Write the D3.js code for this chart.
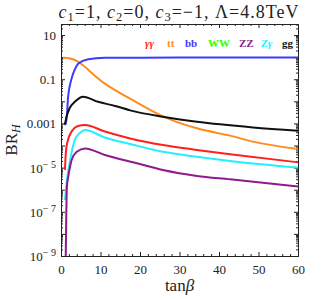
<!DOCTYPE html>
<html>
<head>
<meta charset="utf-8">
<script src="https://cdn.jsdelivr.net/npm/d3@7"></script>
<style>
    body { margin: 0; background: #fff; }
    text { font-family: "Liberation Serif", "DejaVu Serif", serif; }
</style>
</head>
<body>
<script>
// data (tanβ, BR_H)
const tanb_tt = [0.5, 1, 2, 3.5, 5.5, 7.8, 11.1, 13.7, 18.7, 25.8, 34.4, 42.8, 48.6, 60];
const br_tt = [0.95, 0.95, 0.89, 0.74, 0.44, 0.19, 0.063, 0.032, 0.010, 0.0021, 6.0e-4, 2.8e-4, 1.5e-4, 6.9e-5];

const tanb_bb = [0.85, 1.25, 1.85, 2.7, 3.5, 4.4, 6.9, 11.1, 20, 40, 60];
const br_bb = [9.1e-4, 9.1e-4, 0.0195, 0.11, 0.28, 0.52, 0.81, 0.93, 0.95, 0.955, 0.955];

const tanb_gg = [0.85, 1.0, 1.4, 2.2, 3.5, 5.6, 9.4, 13.7, 17.5, 25.8, 34.4, 40.3, 48.6, 60];
const br_gg = [9.1e-4, 1.0e-3, 2.0e-3, 5.0e-3, 9.5e-3, 0.0162, 9.5e-3, 6.2e-3, 3.9e-3, 2.0e-3, 1.2e-3, 9.1e-4, 6.6e-4, 4.7e-4];

const tanb_aa = [1.0, 1.2, 1.6, 2.8, 4.3, 6.1, 11.1, 17.5, 25.8, 34.4, 42.8, 60];
const br_aa = [7.9e-6, 4.0e-5, 1.4e-4, 4.6e-4, 7.6e-4, 8.5e-4, 4.3e-4, 2.1e-4, 1.05e-4, 6.3e-5, 4.0e-5, 1.74e-5];

const tanb_za = [1.0, 1.5, 2.3, 3.5, 4.8, 6.1, 11.1, 17.5, 25.8, 34.4, 42.8, 60];
const br_za = [3.4e-7, 2.75e-6, 2.2e-5, 1.78e-4, 3.7e-4, 5.0e-4, 2.3e-4, 1.17e-4, 5.2e-5, 3.1e-5, 2.0e-5, 1.0e-5];

const tanb_zz = [1.2, 1.35, 1.52, 1.85, 2.7, 4.0, 6.1, 11.1, 18.7, 25.8, 34.4, 42.8, 60];
const br_zz = [1e-9, 1e-7, 1.6e-6, 4.0e-6, 2.2e-5, 5.2e-5, 7.4e-5, 3.7e-5, 1.66e-5, 7.8e-6, 4.2e-6, 2.95e-6, 1.38e-6];

const legend_labels = ["γγ", "tt", "bb", "WW", "ZZ", "Zγ", "gg"];
const legend_colors = ["#ff1f1f", "#ff8c1a", "#3b3bff", "#33ff00", "#8e1a8e", "#22f0ff", "#111111"];

const x_major = [0, 10, 20, 30, 40, 50, 60];
const y_labels = {1: "10", "-1": "0.1", "-3": "0.001", "-5": "10|-5", "-7": "10|-7", "-9": "10|-9"};

const svgWidth = 327;
const svgHeight = 300;
const config = {T: 24, B: 256, L: 61, R: 298};

window.onload = main;

function main() {
    const svg = d3.select("body").append("svg")
        .attr("width", svgWidth)
        .attr("height", svgHeight);

    const scaleX = d3.scaleLinear().domain([0, 60]).range([config.L, config.R]);
    const scaleY = d3.scaleLog().domain([1e-9, Math.pow(10, 1.5)]).range([config.B, config.T]);

    draw_title(svg);
    draw_frame(svg, scaleX, scaleY);

    // curves
    const series = [
        {x: tanb_tt, y: br_tt, c: legend_colors[1]},
        {x: tanb_bb, y: br_bb, c: legend_colors[2]},
        {x: tanb_gg, y: br_gg, c: legend_colors[6]},
        {x: tanb_aa, y: br_aa, c: legend_colors[0]},
        {x: tanb_za, y: br_za, c: legend_colors[5]},
        {x: tanb_zz, y: br_zz, c: legend_colors[4]}
    ];

    svg.append("clipPath").attr("id", "clip")
        .append("rect")
        .attr("x", config.L).attr("y", config.T)
        .attr("width", config.R - config.L).attr("height", config.B - config.T);

    const line = d3.line()
        .x(d => scaleX(d[0]))
        .y(d => scaleY(d[1]))
        .curve(d3.curveMonotoneX);

    svg.append("g").attr("clip-path", "url(#clip)")
        .selectAll("path")
        .data(series)
        .join("path")
        .attr("d", s => line(s.x.map((v, i) => [v, s.y[i]])))
        .attr("fill", "none")
        .attr("stroke", s => s.c)
        .attr("stroke-width", 2)
        .attr("stroke-linejoin", "round");

    // legend
    const legend_x = [145, 167, 185, 208, 239, 261, 282];
    svg.append("g").selectAll("text")
        .data(legend_labels)
        .join("text")
        .attr("x", (d, i) => legend_x[i])
        .attr("y", 47)
        .attr("font-size", 11)
        .attr("font-weight", "bold")
        .attr("font-style", d => d.includes("γ") ? "italic" : "normal")
        .attr("fill", (d, i) => legend_colors[i])
        .text(d => d);
}

function draw_title(svg) {
    const t = svg.append("text")
        .attr("x", 179)
        .attr("y", 18)
        .attr("text-anchor", "middle")
        .attr("font-size", 18)
        .attr("letter-spacing", 1)
        .attr("fill", "#222");
    const parts = [["c", "1", "=1, "], ["c", "2", "=0, "], ["c", "3", "=\u22121, "]];
    parts.forEach(p => {
        t.append("tspan").attr("font-style", "italic").text(p[0]);
        t.append("tspan").attr("font-size", 12.5).attr("dy", 3).text(p[1]);
        t.append("tspan").attr("dy", -3).text(p[2]);
    });
    t.append("tspan").text("\u039B=4.8TeV");
}

function draw_frame(svg, scaleX, scaleY) {
    const g = svg.append("g").attr("class", "frame");

    const x_minor = d3.range(0, 61, 2).filter(v => v % 10 !== 0);
    const y_major = d3.range(-9, 2).map(e => Math.pow(10, e));
    const y_minor = [];
    d3.range(-9, 1).forEach(e => d3.range(2, 10).forEach(m => y_minor.push(m * Math.pow(10, e))));
    d3.range(2, 4).forEach(m => y_minor.push(m * 10));

    const style = sel => {
        sel.select(".domain").attr("stroke", "#222");
        sel.selectAll(".tick line").attr("stroke", "#222");
    };

    // bottom
    g.append("g").attr("transform", `translate(0,${config.B})`)
        .call(d3.axisBottom(scaleX).tickValues(x_major).tickSizeInner(-4).tickSizeOuter(0).tickPadding(9))
        .call(style)
        .call(a => a.selectAll("text").attr("font-size", 13).attr("fill", "#222")
            .attr("font-family", "Liberation Serif, serif"));
    g.append("g").attr("transform", `translate(0,${config.B})`)
        .call(d3.axisBottom(scaleX).tickValues(x_minor).tickSize(-2).tickFormat(""))
        .call(style);
    // top
    g.append("g").attr("transform", `translate(0,${config.T})`)
        .call(d3.axisTop(scaleX).tickValues(x_major).tickSizeInner(-4).tickSizeOuter(0).tickFormat(""))
        .call(style);
    g.append("g").attr("transform", `translate(0,${config.T})`)
        .call(d3.axisTop(scaleX).tickValues(x_minor).tickSize(-2).tickFormat(""))
        .call(style);

    // left
    g.append("g").attr("transform", `translate(${config.L},0)`)
        .call(d3.axisLeft(scaleY).tickValues(y_major).tickSizeInner(-4).tickSizeOuter(0).tickFormat(""))
        .call(style)
        .call(a => a.selectAll(".tick").each(function (d) {
            const e = Math.round(Math.log10(d));
            const lab = y_labels[e];
            if (!lab) return;
            const t = d3.select(this).append("text")
                .attr("x", -5).attr("dy", "0.35em")
                .attr("text-anchor", "end")
                .attr("font-size", 13)
                .attr("fill", "#222")
                .attr("font-family", "Liberation Serif, serif");
            if (lab.includes("|")) {
                const [base, ex] = lab.split("|");
                t.append("tspan").text(base);
                t.append("tspan").attr("dy", -5).attr("font-size", 10)
                    .text("\u2212 " + ex.slice(1));
            } else {
                t.text(lab);
            }
        }));
    g.append("g").attr("transform", `translate(${config.L},0)`)
        .call(d3.axisLeft(scaleY).tickValues(y_minor).tickSize(-2).tickFormat(""))
        .call(style);
    // right
    g.append("g").attr("transform", `translate(${config.R},0)`)
        .call(d3.axisRight(scaleY).tickValues(y_major).tickSizeInner(-4).tickSizeOuter(0).tickFormat(""))
        .call(style);
    g.append("g").attr("transform", `translate(${config.R},0)`)
        .call(d3.axisRight(scaleY).tickValues(y_minor).tickSize(-2).tickFormat(""))
        .call(style);

    g.selectAll(".domain").attr("stroke-width", 1);

    // axis titles
    svg.append("text")
        .attr("x", (config.L + config.R) / 2)
        .attr("y", 291)
        .attr("text-anchor", "middle")
        .attr("font-size", 17)
        .attr("fill", "#222")
        .call(t => {
            t.append("tspan").text("tan");
            t.append("tspan").attr("font-style", "italic").text("\u03B2");
        });

    svg.append("text")
        .attr("transform", `translate(17,${(config.T + config.B) / 2}) rotate(-90)`)
        .attr("text-anchor", "middle")
        .attr("font-size", 17)
        .attr("fill", "#222")
        .call(t => {
            t.append("tspan").text("BR");
            t.append("tspan").attr("font-style", "italic").attr("font-size", 12).attr("dy", 3).text("H");
        });
}
</script>
</body>
</html>
